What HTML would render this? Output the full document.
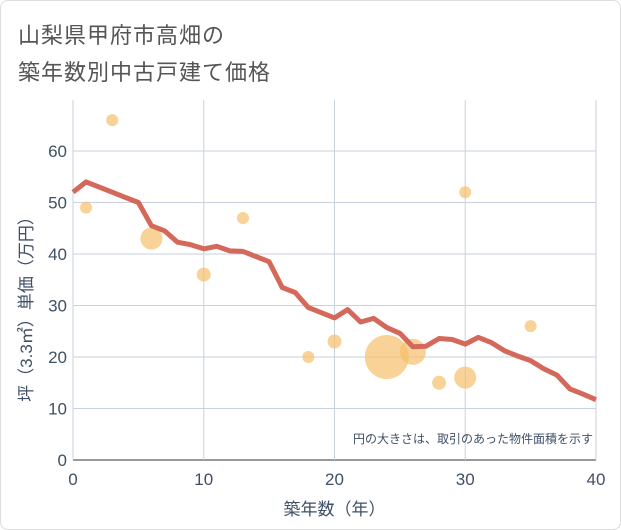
<!DOCTYPE html>
<html><head><meta charset="utf-8">
<style>
body{margin:0;background:#fff;}
#card{position:absolute;left:0;top:0;width:619px;height:528px;border:1px solid #ddd;border-radius:8px;background:#fff;}
.t{position:absolute;left:18px;font-family:"Liberation Sans","Noto Sans CJK JP",sans-serif;font-size:22px;color:#555;letter-spacing:1px;}
svg text{font-family:"Liberation Sans","Noto Sans CJK JP",sans-serif;fill:#3f5066;}
</style></head><body>
<div id="card"></div>
<div class="t" style="top:18px">山梨県甲府市高畑の</div>
<div class="t" style="top:55px">築年数別中古戸建て価格</div>
<svg id="chart" width="621" height="530" style="position:absolute;left:0;top:0"></svg>
<script>
const xTicks=[0,10,20,30,40];
const yTicks=[0,10,20,30,40,50,60];
const lineX=[0,1,2,3,4,5,6,7,8,9,10,11,12,13,14,15,16,17,18,19,20,21,22,23,24,25,26,27,28,29,30,31,32,33,34,35,36,37,38,39,40];
const lineY=[52,54,53,52,51,50,45.5,44.5,42.3,41.8,41,41.5,40.6,40.5,39.5,38.5,33.5,32.5,29.6,28.6,27.6,29.2,26.8,27.5,25.7,24.6,22,22.1,23.6,23.4,22.5,23.8,22.8,21.2,20.2,19.3,17.7,16.5,13.8,12.8,11.7];
const bubX=[1,3,6,10,13,18,20,24,26,28,30,30,35];
const bubY=[49,66,43,36,47,20,23,20,21,15,16,52,26];
const bubR=[6,6,11,7,6,6,7,22,13,7,11,6,6];
const NS="http://www.w3.org/2000/svg";
const svg=document.getElementById('chart');
const X0=73,X1=596,Y0=460,Y60=151;
const sx=v=>X0+(X1-X0)*v/40;
const sy=v=>Y0+(Y60-Y0)*v/60;
function mk(tag,attrs,parent){const e=document.createElementNS(NS,tag);for(const k in attrs)e.setAttribute(k,attrs[k]);(parent||svg).appendChild(e);return e;}
for(const t of yTicks){
 const l=mk('line',{x1:X0,x2:X1,y1:sy(t),y2:sy(t),stroke:t===0?'#333':'#c8d2de','stroke-width':1});
 
 
 const tx=mk('text',{x:X0-6,y:sy(t)+6,'text-anchor':'end','font-size':17});
 tx.textContent=t;
 
 
}
for(const t of xTicks){
 const l=mk('line',{x1:sx(t),x2:sx(t),y1:100,y2:Y0,stroke:'#c8d2de','stroke-width':1});
 
 
 const tx=mk('text',{x:sx(t),y:Y0+25,'text-anchor':'middle','font-size':17});
 tx.textContent=t;
 
 
}
for(let i=0;i<bubX.length;i++){
 const c=mk('circle',{cx:sx(bubX[i]),cy:sy(bubY[i]),r:bubR[i],fill:'#f5bf6a','fill-opacity':0.7});
 
 
}
let d='';
for(let i=0;i<lineX.length;i++)d+=(i?'L':'M')+sx(lineX[i]).toFixed(1)+','+sy(lineY[i]).toFixed(1);
const p=mk('path',{d:d,fill:'none',stroke:'#d4685a','stroke-width':5,'stroke-linejoin':'round'});


const xt=mk('text',{x:sx(20),y:515,'text-anchor':'middle','font-size':17});
xt.textContent='築年数（年）';


const yt=mk('text',{x:32,y:305,'text-anchor':'middle','font-size':17,transform:'rotate(-90 32 305)'});
yt.textContent='坪（3.3㎡）単価（万円）';


const nt=mk('text',{x:593,y:443,'text-anchor':'end','font-size':12});
nt.textContent='円の大きさは、取引のあった物件面積を示す';


</script>
</body></html>
